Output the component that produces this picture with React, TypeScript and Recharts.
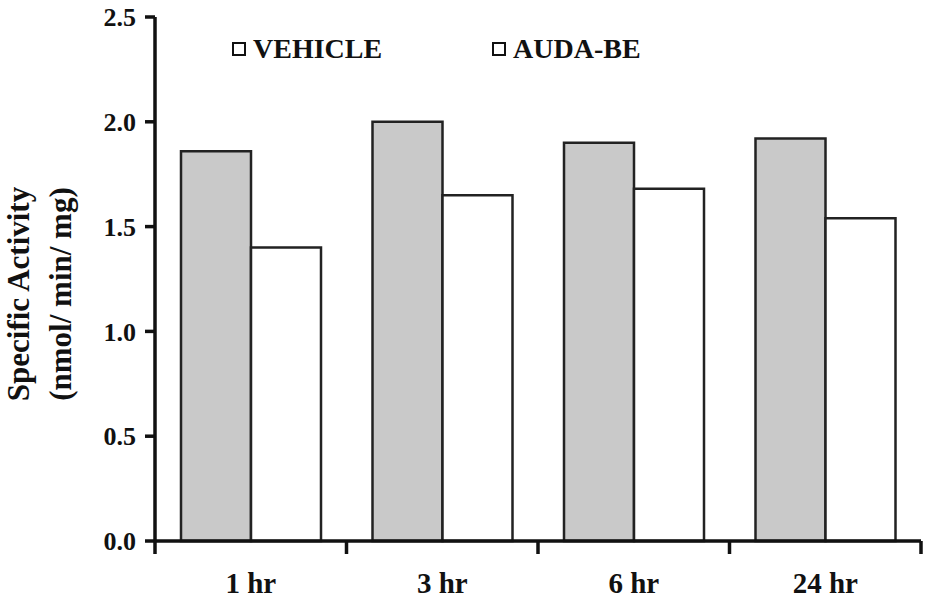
import React from 'react';
import { BarChart, Bar, XAxis, YAxis, Legend } from 'recharts';

const CATEGORIES = ['1 hr', '3 hr', '6 hr', '24 hr'];
const VEHICLE = [1.86, 2.0, 1.9, 1.92];
const AUDA_BE = [1.4, 1.65, 1.68, 1.54];
const Y_TICKS = [0, 0.5, 1.0, 1.5, 2.0, 2.5];
const SERIES_NAMES = ['VEHICLE', 'AUDA-BE'];
const Y_LABEL_LINES = ['Specific Activity', '(nmol/ min/ mg)'];

const data = CATEGORIES.map((c, i) => ({ cat: c, vehicle: VEHICLE[i], auda: AUDA_BE[i] }));

const SERIF = '"Liberation Serif", "Times New Roman", Times, serif';
const INK = '#111';
const W = 926;
const H = 600;
const MARGIN = { top: 17, right: 5, bottom: 9, left: 80 };
const Y_AXIS_W = 75;
const PLOT_W = W - MARGIN.left - MARGIN.right - Y_AXIS_W;
const BAND = PLOT_W / CATEGORIES.length;

const XTick = (props: any) => {
  const { x, y, payload, index } = props;
  const isLast = index === CATEGORIES.length - 1;
  return (
    <g>
      <line x1={x - BAND / 2} y1={y} x2={x - BAND / 2} y2={y + 13} stroke={INK} strokeWidth={3.5} />
      {isLast && (
        <line x1={x + BAND / 2} y1={y} x2={x + BAND / 2} y2={y + 13} stroke={INK} strokeWidth={3.5} />
      )}
      <text x={x} y={y + 52} textAnchor="middle" fontFamily={SERIF} fontWeight={700} fontSize={29} fill={INK}>
        {payload.value}
      </text>
    </g>
  );
};

const YLabel = (_props: any) => (
  <g>
    <text
      x={29}
      y={294}
      transform="rotate(-90 29 294)"
      textAnchor="middle"
      fontFamily={SERIF}
      fontWeight={700}
      fontSize={31}
      fill={INK}
    >
      {Y_LABEL_LINES[0]}
    </text>
    <text
      x={71}
      y={294}
      transform="rotate(-90 71 294)"
      textAnchor="middle"
      fontFamily={SERIF}
      fontWeight={700}
      fontSize={31}
      fill={INK}
    >
      {Y_LABEL_LINES[1]}
    </text>
  </g>
);

const LEGEND_LEFTS = [232, 492];

const renderLegend = (props: any) => {
  const payload = [...(props.payload || [])].sort(
    (a: any, b: any) => SERIES_NAMES.indexOf(a.value) - SERIES_NAMES.indexOf(b.value)
  );
  return (
    <div style={{ position: 'relative', width: W, height: 30 }}>
      {payload.map((p: any, i: number) => (
        <div
          key={p.value}
          style={{
            position: 'absolute',
            left: LEGEND_LEFTS[i],
            top: 0,
            display: 'flex',
            alignItems: 'center',
            fontFamily: SERIF,
            fontWeight: 700,
            fontSize: 28,
            lineHeight: '28px',
            color: INK,
            whiteSpace: 'nowrap',
          }}
        >
          <span
            style={{
              display: 'inline-block',
              width: 14,
              height: 14,
              boxSizing: 'border-box',
              border: `2px solid ${INK}`,
              background: '#fff',
              marginRight: 7,
            }}
          />
          <span>{p.value}</span>
        </div>
      ))}
    </div>
  );
};

export default function App() {
  return (
    <div style={{ position: 'absolute', left: 0, top: 0, width: W, height: H, background: '#fff' }}>
      <BarChart width={W} height={H} data={data} margin={MARGIN} barGap={0} barSize={70}>
        <XAxis
          dataKey="cat"
          interval={0}
          height={50}
          tickLine={false}
          tickSize={0}
          tickMargin={0}
          axisLine={{ stroke: INK, strokeWidth: 3.5 }}
          tick={<XTick />}
        />
        <YAxis
          type="number"
          domain={[0, 2.5]}
          ticks={Y_TICKS}
          width={Y_AXIS_W}
          axisLine={{ stroke: INK, strokeWidth: 3.5 }}
          tickLine={{ stroke: INK, strokeWidth: 3.5 }}
          tickSize={10}
          tickMargin={9}
          tickFormatter={(v: number) => v.toFixed(1)}
          tick={{ fontSize: 26, fontWeight: 700, fill: INK, fontFamily: SERIF }}
          label={<YLabel />}
        />
        <Legend
          layout="vertical"
          align="center"
          verticalAlign="middle"
          wrapperStyle={{ position: 'absolute', left: 0, top: 35, width: W, height: 30 }}
          content={renderLegend}
        />
        <Bar
          dataKey="vehicle"
          name={SERIES_NAMES[0]}
          fill="#c9c9c9"
          stroke="#222"
          strokeWidth={2.5}
          isAnimationActive={false}
        />
        <Bar
          dataKey="auda"
          name={SERIES_NAMES[1]}
          fill="#ffffff"
          stroke="#222"
          strokeWidth={2.5}
          isAnimationActive={false}
        />
      </BarChart>
    </div>
  );
}
